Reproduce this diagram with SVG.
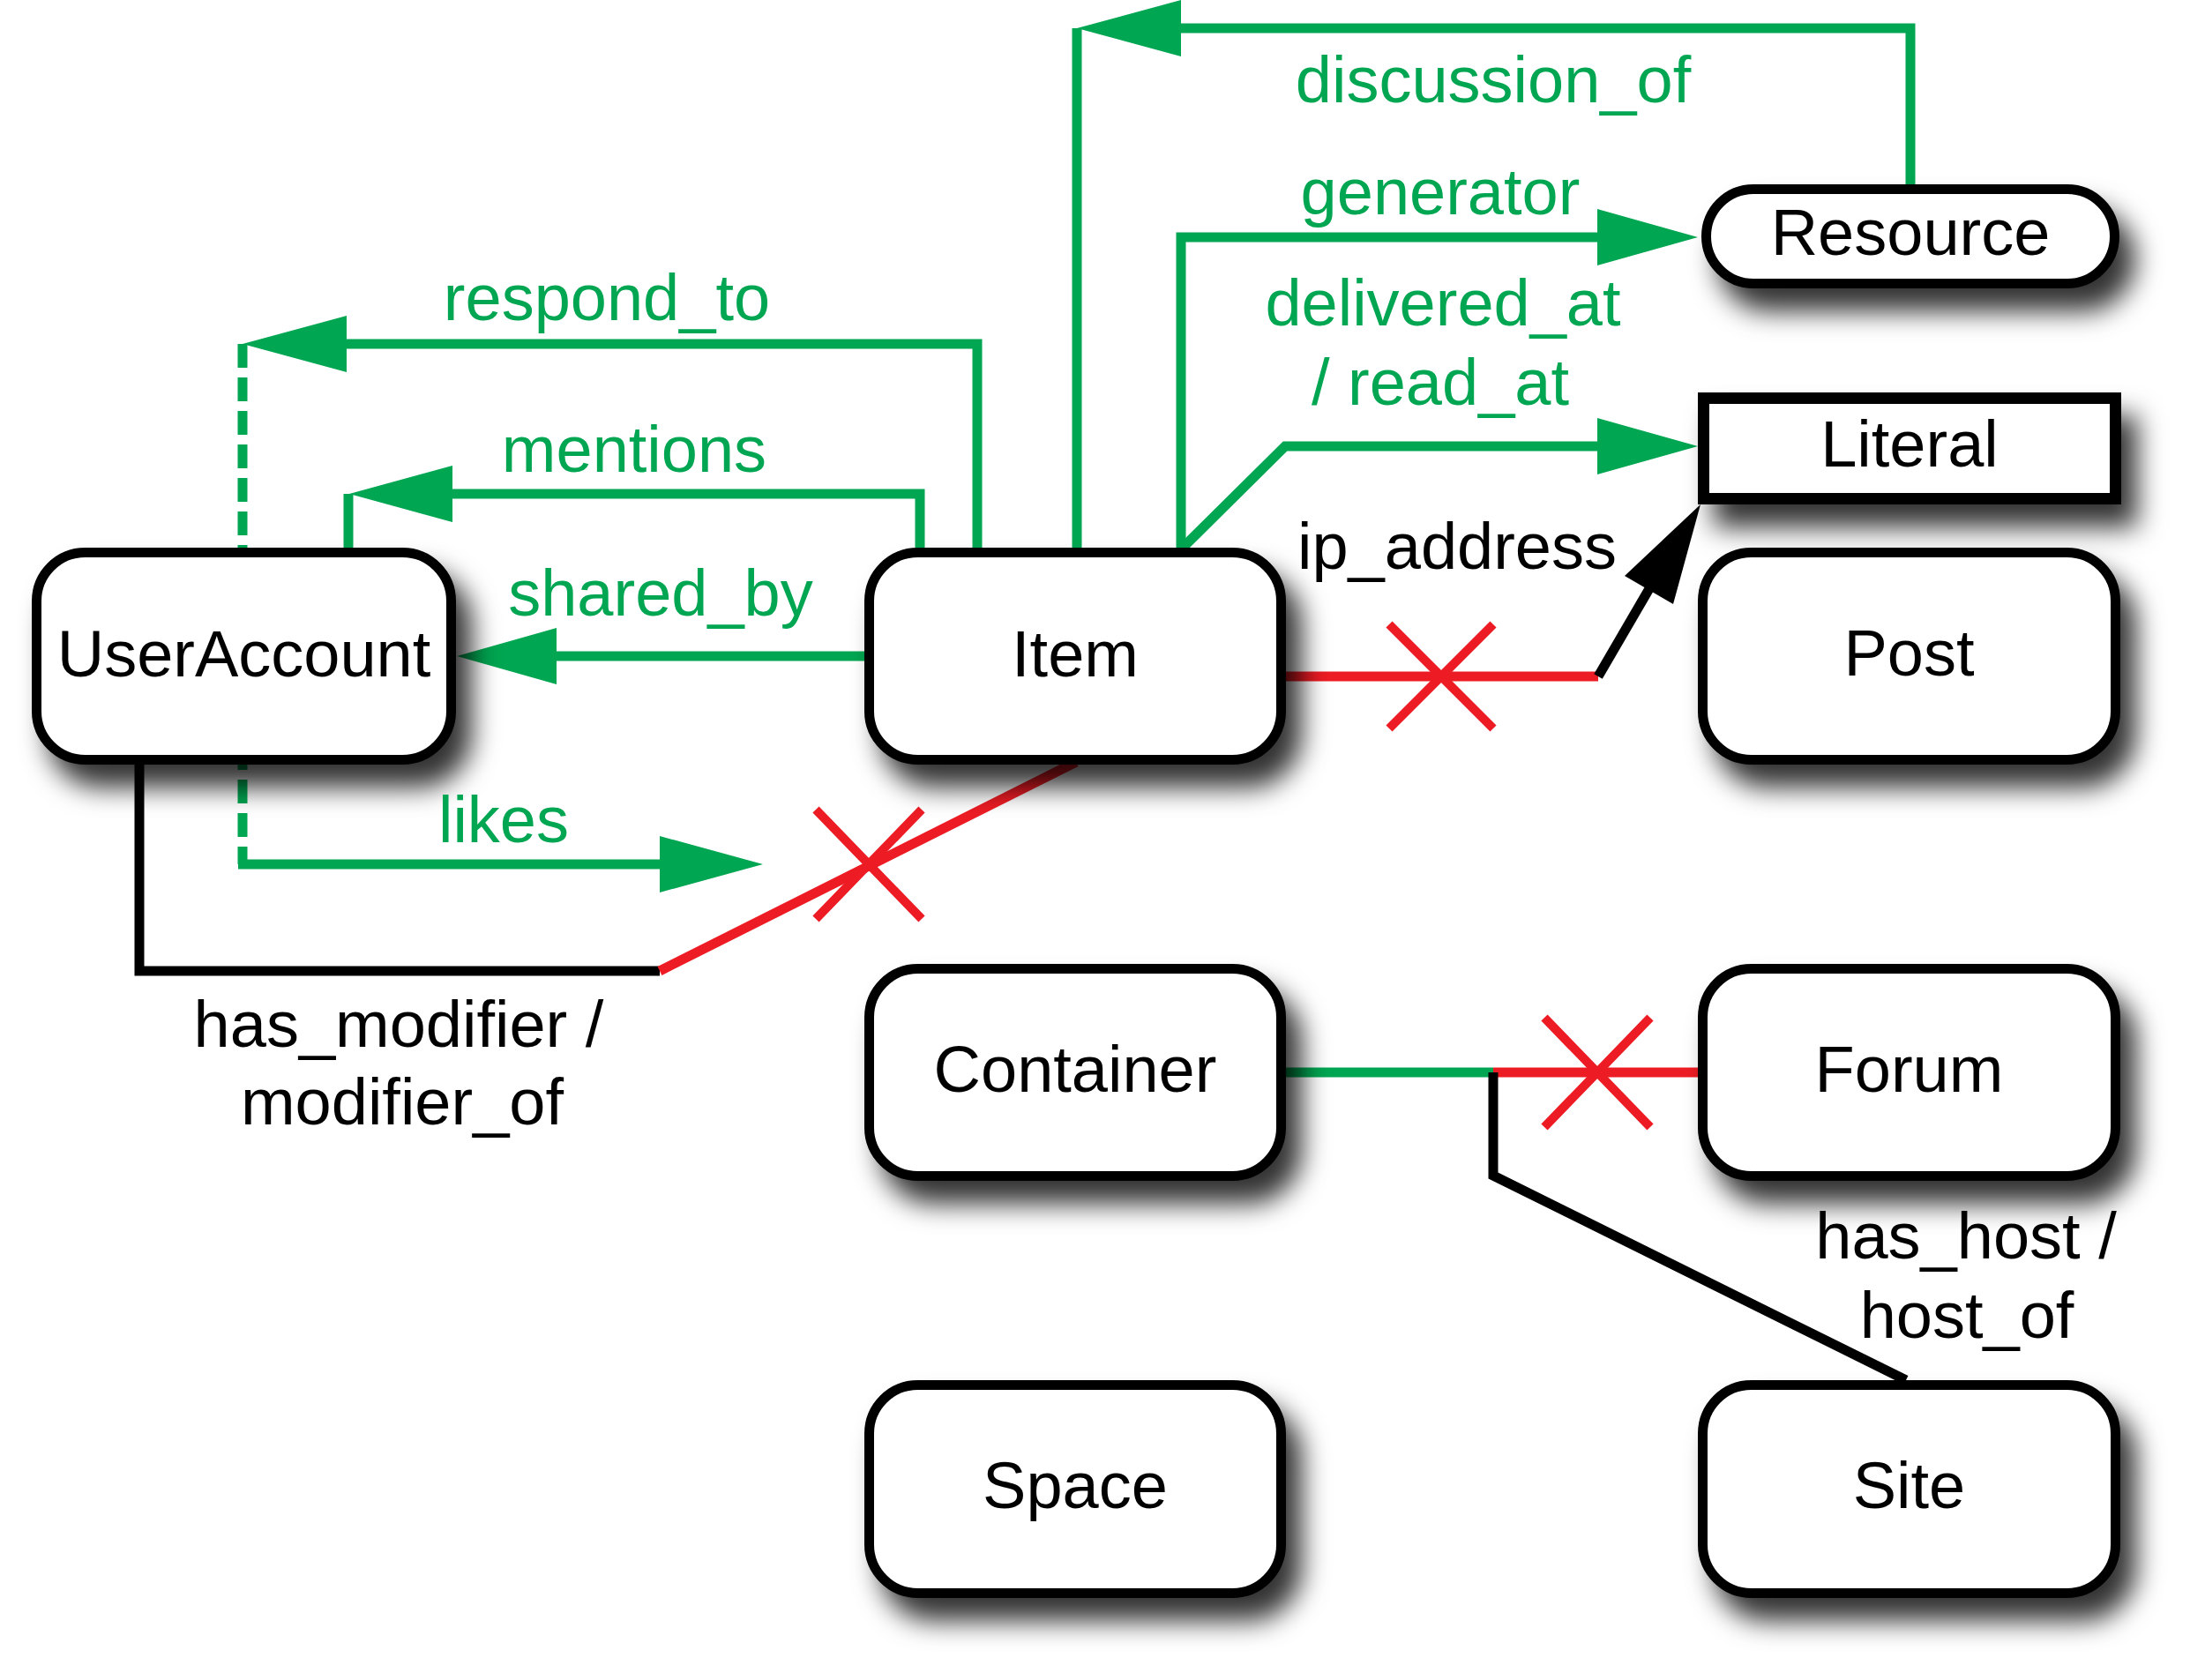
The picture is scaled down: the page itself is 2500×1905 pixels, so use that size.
<svg xmlns="http://www.w3.org/2000/svg" width="2500" height="1905" viewBox="0 0 2500 1905">
<defs>
<filter id="shadow" filterUnits="userSpaceOnUse" x="0" y="0" width="2500" height="1905">
<feDropShadow dx="18" dy="26" stdDeviation="15" flood-color="#000" flood-opacity="0.8"/>
</filter>
<style>
.node{fill:#fff;stroke:#000;stroke-width:11}
.nt{font-family:"Liberation Sans",Arial,sans-serif;font-size:74px;fill:#000;text-anchor:middle}
.gt{font-family:"Liberation Sans",Arial,sans-serif;font-size:74px;fill:#00A651;text-anchor:middle}
.bt{font-family:"Liberation Sans",Arial,sans-serif;font-size:74px;fill:#000;text-anchor:middle}
.g{fill:none;stroke:#00A651;stroke-width:11}
.gd{fill:none;stroke:#00A651;stroke-width:11;stroke-dasharray:27 11}
.r{fill:none;stroke:#ED1C24;stroke-width:11}
.rx{fill:none;stroke:#ED1C24;stroke-width:10}
.k{fill:none;stroke:#000;stroke-width:11}
.ga{fill:#00A651}
.ka{fill:#000}
</style>
</defs>
<rect width="2500" height="1905" fill="#fff"/>
<g id="connectors">
<!-- discussion_of -->
<path class="g" d="M2166 209 V32 H1335"/>
<path class="g" d="M1221 621 V32"/>
<polygon class="ga" points="1221,32 1339,0 1339,64"/>
<!-- generator -->
<path class="g" d="M1339 621 V269 H1815"/>
<polygon class="ga" points="1925,269 1811,237 1811,301"/>
<!-- delivered_at / read_at -->
<path class="g" d="M1341 621 L1457 506 H1815"/>
<polygon class="ga" points="1925,506 1811,474 1811,538"/>
<!-- respond_to -->
<path class="g" d="M1108 621 V390 H389"/>
<polygon class="ga" points="275,390 393,358 393,422"/>
<path class="gd" d="M275 390 V980"/>
<!-- mentions -->
<path class="g" d="M1043 621 V560 H509"/>
<polygon class="ga" points="396,560 513,528 513,592"/>
<path class="g" d="M395 621 V560"/>
<!-- shared_by -->
<path class="g" d="M980 744 H627"/>
<polygon class="ga" points="518,744 631,712 631,776"/>
<!-- likes -->
<path class="g" d="M270 980 H752"/>
<polygon class="ga" points="865,980 748,948 748,1012"/>
<!-- has_modifier / modifier_of -->
<path class="k" d="M158 867 V1101 H748"/>
<path class="r" d="M748 1101 L1220 864"/>
<path class="rx" d="M925 918 L1045 1042 M1045 918 L925 1042"/>
<!-- ip_address -->
<path class="r" d="M1458 767 H1812"/>
<path class="rx" d="M1575 708 L1693 826 M1693 708 L1575 826"/>
<path class="k" d="M1812 767 L1872 664"/>
<polygon class="ka" points="1928,572 1842,653 1897,685"/>
<!-- container / forum -->
<path class="g" d="M1458 1216 H1693"/>
<path class="r" d="M1693 1216 H1925"/>
<path class="rx" d="M1751 1154 L1871 1278 M1871 1154 L1751 1278"/>
<!-- has_host / host_of -->
<path class="k" d="M1693 1216 V1333 L2161 1565"/>
</g>
<g id="UserAccount" filter="url(#shadow)">
<rect class="node" x="41.5" y="626.5" width="470" height="235" rx="55" ry="55"/>
<text class="nt" x="276.5" y="767">UserAccount</text>
</g>
<g id="Item" filter="url(#shadow)">
<rect class="node" x="985.5" y="626.5" width="467" height="235" rx="55" ry="55"/>
<text class="nt" x="1219" y="767">Item</text>
</g>
<g id="Resource" filter="url(#shadow)">
<rect class="node" x="1934.5" y="214.5" width="463" height="107" rx="53.5" ry="53.5"/>
<text class="nt" x="2166" y="289">Resource</text>
</g>
<g id="Literal" filter="url(#shadow)">
<rect class="node" x="1931.5" y="451.5" width="467" height="114" style="stroke-width:13"/>
<text class="nt" x="2165" y="529">Literal</text>
</g>
<g id="Post" filter="url(#shadow)">
<rect class="node" x="1930.5" y="626.5" width="468" height="235" rx="55" ry="55"/>
<text class="nt" x="2164.5" y="766">Post</text>
</g>
<g id="Container" filter="url(#shadow)">
<rect class="node" x="985.5" y="1098.5" width="467" height="235" rx="55" ry="55"/>
<text class="nt" x="1219" y="1238">Container</text>
</g>
<g id="Forum" filter="url(#shadow)">
<rect class="node" x="1930.5" y="1098.5" width="468" height="235" rx="55" ry="55"/>
<text class="nt" x="2164.5" y="1238">Forum</text>
</g>
<g id="Space" filter="url(#shadow)">
<rect class="node" x="985.5" y="1570.5" width="467" height="236" rx="55" ry="55"/>
<text class="nt" x="1219" y="1710">Space</text>
</g>
<g id="Site" filter="url(#shadow)">
<rect class="node" x="1930.5" y="1570.5" width="468" height="236" rx="55" ry="55"/>
<text class="nt" x="2164.5" y="1710">Site</text>
</g>
<g id="edge-labels">
<text class="gt" x="1693" y="116">discussion_of</text>
<text class="gt" x="1633" y="243">generator</text>
<text class="gt" x="1636" y="369">delivered_at</text>
<text class="gt" x="1633" y="459">/ read_at</text>
<text class="gt" x="688" y="363">respond_to</text>
<text class="gt" x="719" y="535">mentions</text>
<text class="gt" x="749" y="698">shared_by</text>
<text class="gt" x="571" y="955">likes</text>
<text class="bt" x="1652" y="645">ip_address</text>
<text class="bt" x="452" y="1187">has_modifier /</text>
<text class="bt" x="456" y="1275">modifier_of</text>
<text class="bt" x="2229" y="1427">has_host /</text>
<text class="bt" x="2230" y="1517">host_of</text>
</g>
</svg>
